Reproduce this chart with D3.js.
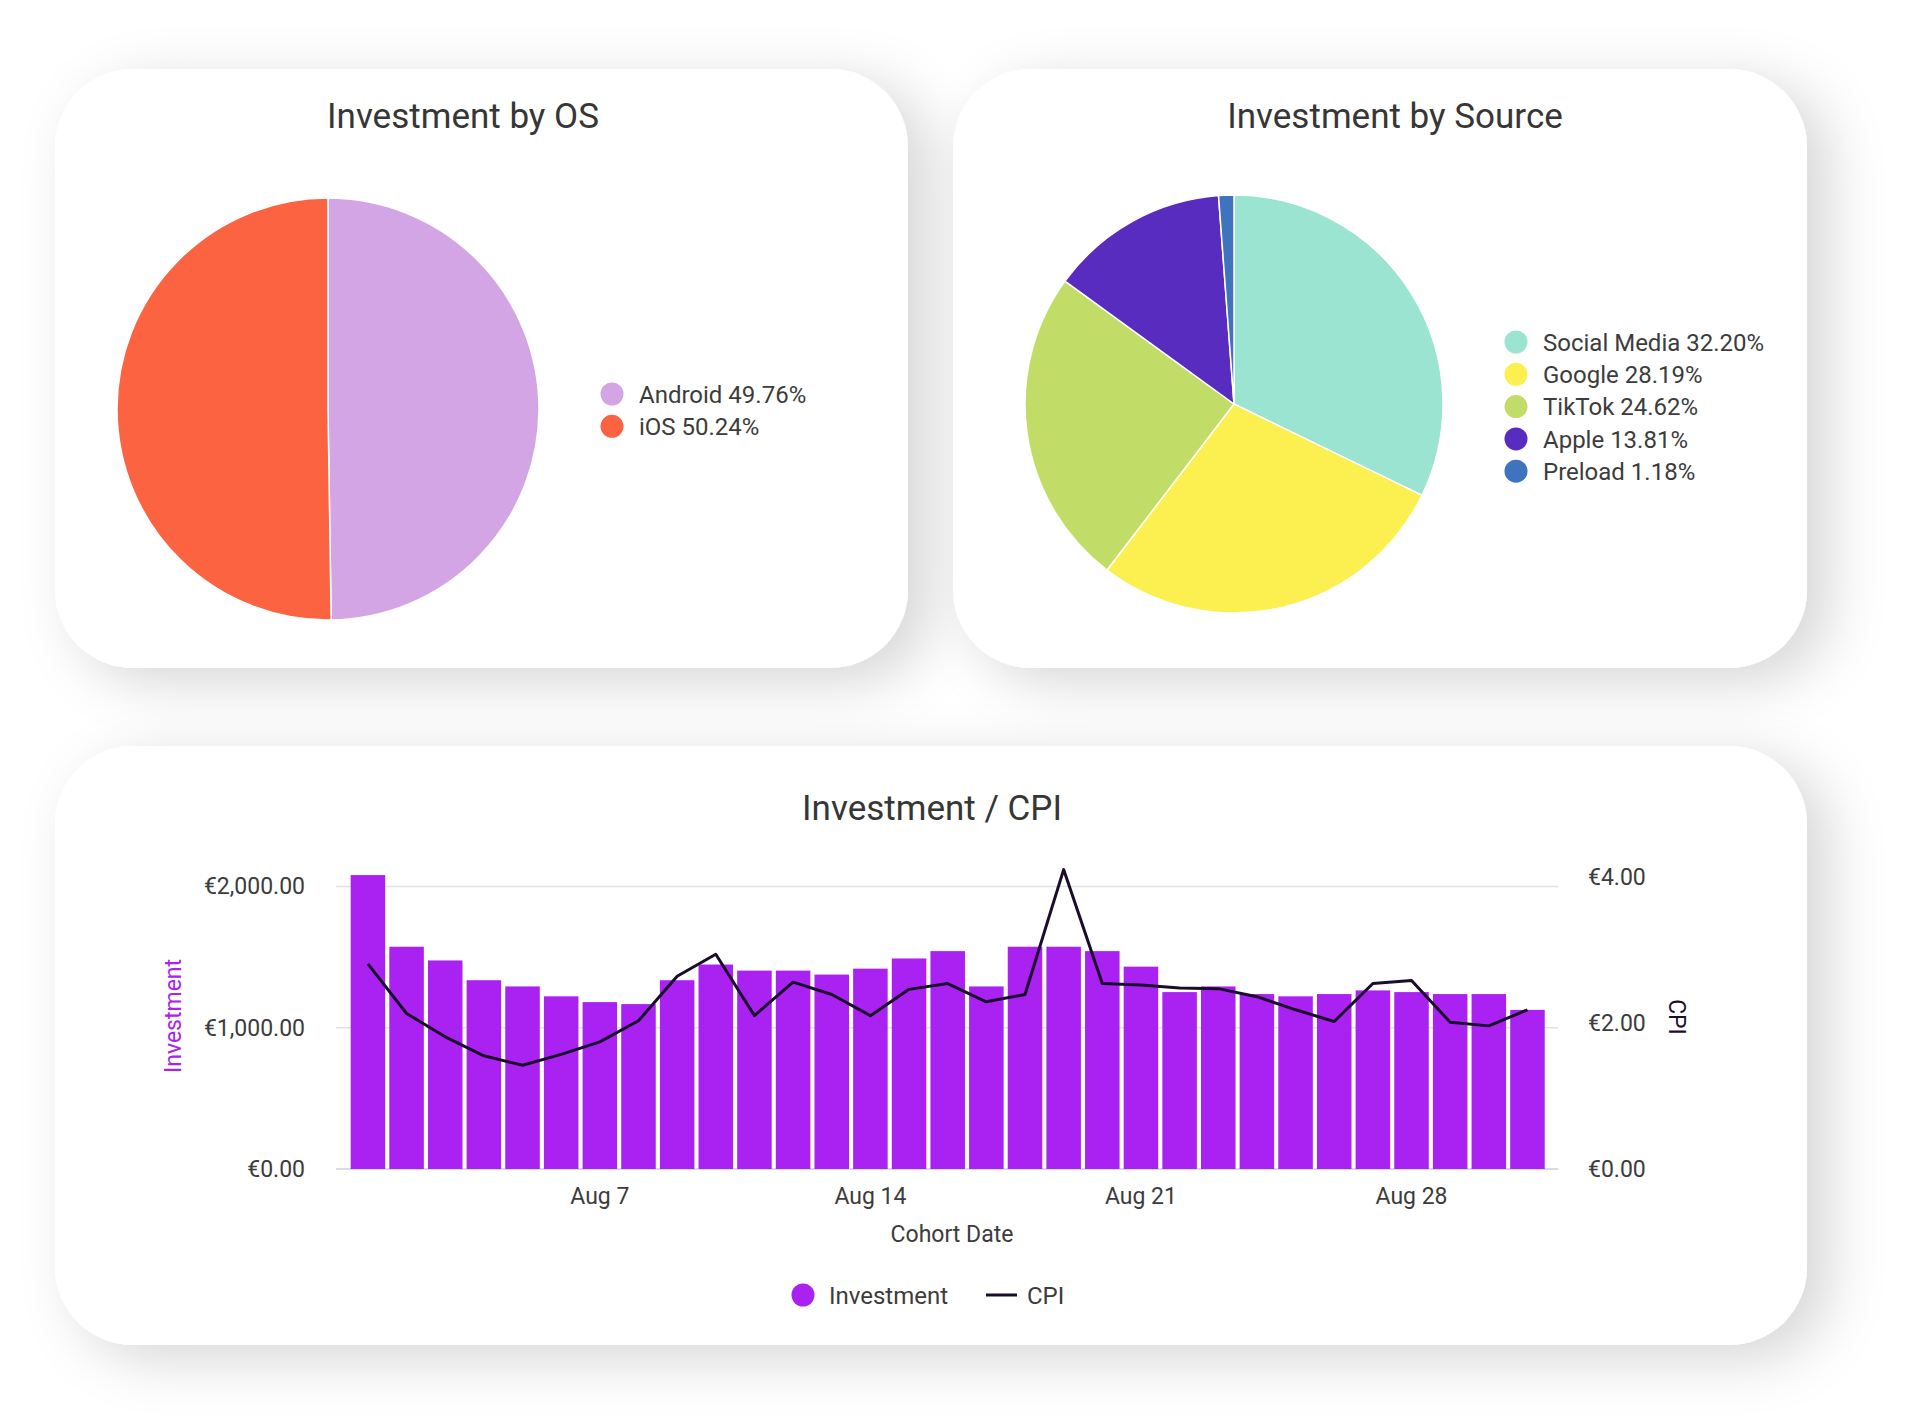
<!DOCTYPE html>
<html>
  <head>
    <meta charset="UTF-8">
    <title>Investment dashboard</title>
    <script src="https://cdn.jsdelivr.net/npm/d3@7"></script>
    <style type="text/css">
      body {
        margin: 0px;
        padding: 0px;
        background: #ffffff;
      }
      text {
        font-family: Roboto, "Noto Sans", sans-serif;
      }
    </style>
  </head>
  <body>
    <div id="chart"></div>
    <script>
      // --- data ---
      const osLabels = ["Android", "iOS"];
      const osValues = [49.76, 50.24];
      const osColors = ["#d4a5e5", "#fb6341"];

      const sourceLabels = ["Social Media", "Google", "TikTok", "Apple", "Preload"];
      const sourceValues = [32.20, 28.19, 24.62, 13.81, 1.18];
      const sourceColors = ["#9ae4d1", "#fbf050", "#c1dc67", "#582cbf", "#3e74bd"];

      const cohortDays = d3.range(1, 32); // Aug 1 .. Aug 31
      const investment = [2080, 1573, 1476, 1336, 1292, 1222, 1181, 1167, 1336, 1447,
                          1404, 1404, 1376, 1418, 1490, 1542, 1292, 1573, 1573, 1542,
                          1432, 1252, 1292, 1238, 1222, 1238, 1264, 1252, 1238, 1238, 1126];
      const cpi = [2.81, 2.13, 1.81, 1.55, 1.42, 1.57, 1.74, 2.03, 2.64, 2.94,
                   2.10, 2.56, 2.39, 2.10, 2.46, 2.54, 2.29, 2.39, 4.10, 2.54,
                   2.52, 2.48, 2.47, 2.36, 2.18, 2.02, 2.54, 2.58, 2.01, 1.96, 2.18];
      const leftTicks = [0, 1000, 2000];
      const rightTicks = [0, 2, 4];
      const xTickDays = [7, 14, 21, 28];

      const width = 1920, height = 1425;
      const textColor = "#3c3c3c";
      const barColor = "#a922f2";
      const lineColor = "#1a0d2c";

      const svg = d3.select("#chart").append("svg")
        .attr("width", width)
        .attr("height", height);

      const defs = svg.append("defs");
      defs.append("filter")
        .attr("id", "card-shadow")
        .attr("x", "-20%").attr("y", "-30%")
        .attr("width", "145%").attr("height", "160%")
        .append("feDropShadow")
        .attr("dx", 22).attr("dy", 14)
        .attr("stdDeviation", 28)
        .attr("flood-color", "#000")
        .attr("flood-opacity", 0.16);

      // cards
      const cards = [
        { x: 55, y: 69, w: 853, h: 599 },
        { x: 953, y: 69, w: 854, h: 599 },
        { x: 55, y: 746, w: 1752, h: 599 }
      ];
      svg.append("g").selectAll("rect")
        .data(cards).enter().append("rect")
        .attr("x", d => d.x).attr("y", d => d.y)
        .attr("width", d => d.w).attr("height", d => d.h)
        .attr("rx", 78).attr("ry", 78)
        .attr("fill", "#ffffff")
        .attr("filter", "url(#card-shadow)");

      function title(txt, cx, by) {
        svg.append("text")
          .attr("x", cx).attr("y", by)
          .attr("text-anchor", "middle")
          .attr("font-size", 35)
          .attr("fill", "#363636")
          .text(txt);
      }

      // pie chart with legend on the right
      function pieChart(labels, values, colors, cx, cy, r, legendX, legendY) {
        const pie = d3.pie().sort(null).value(d => d)(values);
        const arc = d3.arc().innerRadius(0).outerRadius(r);
        const g = svg.append("g").attr("transform", `translate(${cx},${cy})`);
        g.selectAll("path")
          .data(pie).enter().append("path")
          .attr("d", arc)
          .attr("fill", (d, i) => colors[i])
          .attr("stroke", "#ffffff")
          .attr("stroke-width", 1.5);

        const legend = svg.append("g").attr("transform", `translate(${legendX},${legendY})`);
        const item = legend.selectAll("g")
          .data(labels).enter().append("g")
          .attr("transform", (d, i) => `translate(0, ${i * 32.3})`);
        item.append("circle")
          .attr("r", 11.5)
          .attr("fill", (d, i) => colors[i]);
        item.append("text")
          .attr("x", 27)
          .attr("dy", "0.36em")
          .attr("font-size", 24)
          .attr("fill", textColor)
          .text((d, i) => `${d} ${d3.format(".2f")(values[i])}%`);
      }

      title("Investment by OS", 463, 128);
      pieChart(osLabels, osValues, osColors, 328, 409, 211, 612, 394);

      title("Investment by Source", 1395, 128);
      pieChart(sourceLabels, sourceValues, sourceColors, 1234, 404, 209, 1516, 342);

      // --- Investment / CPI combo chart ---
      title("Investment / CPI", 932, 820);

      const plot = { left: 336, right: 1558, top: 886.4, bottom: 1169 };

      const x = d3.scaleBand()
        .domain(cohortDays)
        .range([348.6, 1546.8])
        .paddingInner(0.107)
        .paddingOuter(0.0535);
      const yLeft = d3.scaleLinear().domain([0, 2000]).range([plot.bottom, plot.top]);
      const yRight = d3.scaleLinear().domain([0, 3.87]).range([plot.bottom, plot.top]);

      // grid lines
      svg.append("g").selectAll("line")
        .data(leftTicks).enter().append("line")
        .attr("x1", plot.left).attr("x2", plot.right)
        .attr("y1", d => yLeft(d)).attr("y2", d => yLeft(d))
        .attr("stroke", d => d === 0 ? "#c9d0de" : "#e2e2e2")
        .attr("stroke-width", 1.5);

      // bars
      svg.append("g").selectAll("rect")
        .data(investment).enter().append("rect")
        .attr("x", (d, i) => x(cohortDays[i]))
        .attr("y", d => yLeft(d))
        .attr("width", x.bandwidth())
        .attr("height", d => yLeft(0) - yLeft(d))
        .attr("fill", barColor);

      // CPI line
      const line = d3.line()
        .x((d, i) => x(cohortDays[i]) + x.bandwidth() / 2)
        .y(d => yRight(d));
      svg.append("path")
        .datum(cpi)
        .attr("d", line)
        .attr("fill", "none")
        .attr("stroke", lineColor)
        .attr("stroke-width", 3)
        .attr("stroke-linejoin", "round");

      // axes
      const euro = d3.format(",.2f");
      const leftAxis = svg.append("g")
        .attr("transform", `translate(${plot.left},0)`)
        .call(d3.axisLeft(yLeft).tickValues(leftTicks).tickSize(0).tickPadding(31)
          .tickFormat(d => "€" + euro(d)));
      const rightAxis = svg.append("g")
        .attr("transform", `translate(${plot.right},0)`)
        .call(d3.axisRight(yRight).tickValues(rightTicks).tickSize(0).tickPadding(30)
          .tickFormat(d => "€" + euro(d)));
      const bottomAxis = svg.append("g")
        .attr("transform", `translate(0,${plot.bottom})`)
        .call(d3.axisBottom(x).tickValues(xTickDays).tickSize(0).tickPadding(19)
          .tickFormat(d => "Aug " + d));
      [leftAxis, rightAxis, bottomAxis].forEach(a => {
        a.select(".domain").remove();
        a.selectAll("text")
          .attr("font-family", "Roboto, 'Noto Sans', sans-serif")
          .attr("font-size", 23)
          .attr("fill", textColor);
      });

      // axis titles
      svg.append("text")
        .attr("transform", "translate(173,1016) rotate(-90)")
        .attr("text-anchor", "middle")
        .attr("dy", "0.35em")
        .attr("font-size", 23)
        .attr("fill", barColor)
        .text("Investment");
      svg.append("text")
        .attr("transform", "translate(1677,1017) rotate(90)")
        .attr("text-anchor", "middle")
        .attr("dy", "0.35em")
        .attr("font-size", 23)
        .attr("fill", lineColor)
        .text("CPI");
      svg.append("text")
        .attr("x", 952).attr("y", 1242)
        .attr("text-anchor", "middle")
        .attr("font-size", 23)
        .attr("fill", textColor)
        .text("Cohort Date");

      // legend
      const lg = svg.append("g").attr("transform", "translate(803,1295)");
      lg.append("circle").attr("r", 11.5).attr("fill", barColor);
      lg.append("text")
        .attr("x", 26).attr("dy", "0.36em")
        .attr("font-size", 24).attr("fill", textColor)
        .text("Investment");
      lg.append("line")
        .attr("x1", 183).attr("x2", 214)
        .attr("stroke", lineColor).attr("stroke-width", 3);
      lg.append("text")
        .attr("x", 224).attr("dy", "0.36em")
        .attr("font-size", 24).attr("fill", textColor)
        .text("CPI");
    </script>
  </body>
</html>
